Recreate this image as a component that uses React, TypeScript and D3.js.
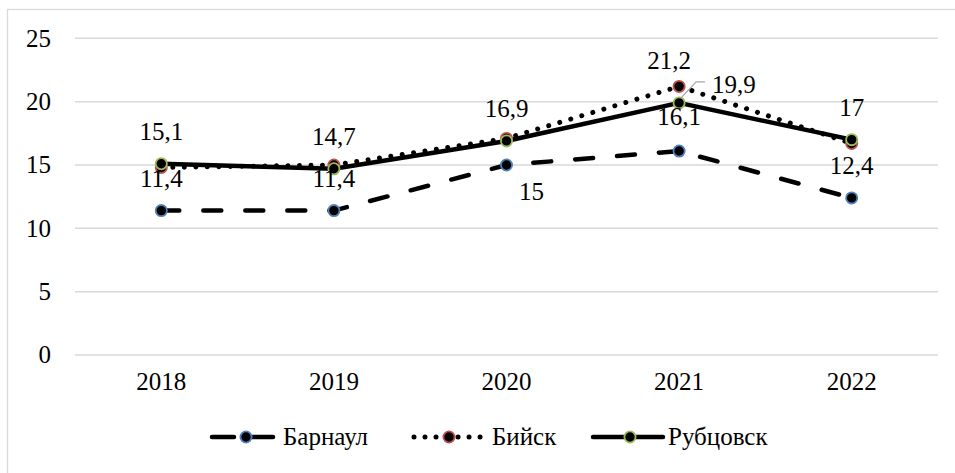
import React from 'react';
import * as d3 from 'd3';

const years = ['2018', '2019', '2020', '2021', '2022'];
const barnaul = [11.4, 11.4, 15, 16.1, 12.4];
const biysk = [14.8, 15.0, 17.1, 21.2, 16.7];
const rubtsovsk = [15.1, 14.7, 16.9, 19.9, 17];
const yTicks = [0, 5, 10, 15, 20, 25];
const seriesNames = ['Барнаул', 'Бийск', 'Рубцовск'];

// which data labels are shown: [seriesIndex, pointIndex]
const shownLabels: [number, number][] = [
  [0, 0], [0, 1], [0, 2], [0, 3], [0, 4],
  [2, 0], [2, 1], [2, 2], [2, 3], [2, 4],
  [1, 3],
];

const W = 955;
const H = 473;
const FS = 25;

const seriesData = [barnaul, biysk, rubtsovsk];
const strokes = ['#4F81BD', '#C0504D', '#9BBB59'];
const dashes = ['18,24', '0.01,11.5', 'none'];

function T(props: any) {
  const { children, ...rest } = props;
  return (
    <text {...rest} fontFamily="Liberation Serif" fontSize={FS} fill="#000" style={{ fontFamily: "'Liberation Serif'", fontSize: FS }}>
      {children}
    </text>
  );
}

// label placement relative to the point (layout only)
function labelPlacement(s: number, i: number) {
  if (s === 0 && i === 2) return { dx: 25, dy: 35, anchor: 'middle' };
  if (s === 2 && i === 3) return { dx: 33, dy: -10, anchor: 'start', leader: true };
  if (s === 1 && i === 3) return { dx: -10, dy: -17, anchor: 'middle' };
  if (s === 0 && i === 3) return { dx: 0, dy: -26, anchor: 'middle' };
  return { dx: 0, dy: -24, anchor: 'middle' };
}

const fmt = (v: number) => String(v).replace('.', ',');

export default function App() {
  const plotLeft = 75;
  const plotRight = 938;
  const x = d3.scaleBand<string>().domain(years).range([plotLeft, plotRight]);
  const y = d3.scaleLinear().domain([0, 25]).range([355, 38.3]);
  const cx = (i: number) => (x(years[i]) as number) + x.bandwidth() / 2;

  const line = d3
    .line<number>()
    .x((_, i) => cx(i))
    .y((d) => y(d));

  const legendY = 437;
  const legendItems = [
    { x1: 210, x2: 275, mx: 246, tx: 283 },
    { x1: 414, x2: 481, mx: 449, tx: 492 },
    { x1: 593, x2: 663, mx: 630, tx: 668 },
  ];

  return (
    <svg width={W} height={H} style={{ position: 'absolute', left: 0, top: 0 }}>
      <rect x={0} y={0} width={W} height={H} fill="#fff" />
      <rect x={7.5} y={9.5} width={970} height={490} fill="none" stroke="#D9D9D9" strokeWidth={1.3} />

      {yTicks.map((t) => (
        <g key={t}>
          <line x1={plotLeft} x2={plotRight} y1={y(t)} y2={y(t)} stroke="#D9D9D9" strokeWidth={1.5} />
          <T x={51} y={y(t)} dy="0.33em" textAnchor="end">
            {t}
          </T>
        </g>
      ))}

      {years.map((yr, i) => (
        <T key={yr} x={cx(i)} y={390} textAnchor="middle">
          {yr}
        </T>
      ))}

      {seriesData.map((data, s) => (
        <path
          key={'l' + s}
          d={line(data) || ''}
          fill="none"
          stroke="#000"
          strokeWidth={s === 1 ? 5 : 4.5}
          strokeLinecap="round"
          strokeLinejoin="round"
          strokeDasharray={dashes[s]}
        />
      ))}

      {seriesData.map((data, s) =>
        data.map((v, i) => (
          <circle key={'m' + s + i} cx={cx(i)} cy={y(v)} r={5.6} fill="#000" stroke={strokes[s]} strokeWidth={1.8} />
        ))
      )}

      {shownLabels.map(([s, i]) => {
        const p = labelPlacement(s, i);
        const px = cx(i);
        const py = y(seriesData[s][i]);
        return (
          <g key={'t' + s + i}>
            {p.leader && (
              <polyline
                points={`${px + 2},${py - 5} ${px + 17},${py - 21} ${px + 26},${py - 21}`}
                fill="none"
                stroke="#A6A6A6"
                strokeWidth={1.3}
              />
            )}
            <T x={px + p.dx} y={py + p.dy} textAnchor={p.anchor}>
              {fmt(seriesData[s][i])}
            </T>
          </g>
        );
      })}

      {legendItems.map((li, s) => (
        <g key={'lg' + s}>
          {s === 0 ? (
            <g>
              <line x1={li.x1 + 2} x2={li.mx - 12} y1={legendY} y2={legendY} stroke="#000" strokeWidth={4.5} strokeLinecap="round" />
              <line x1={li.mx + 6} x2={li.x2 - 2} y1={legendY} y2={legendY} stroke="#000" strokeWidth={4.5} strokeLinecap="round" />
            </g>
          ) : (
            <line
              x1={li.x1}
              x2={li.x2}
              y1={legendY}
              y2={legendY}
              stroke="#000"
              strokeWidth={s === 1 ? 5 : 4.5}
              strokeLinecap="round"
              strokeDasharray={s === 1 ? '0.01,11' : 'none'}
            />
          )}
          <circle cx={li.mx} cy={legendY} r={5.6} fill="#000" stroke={strokes[s]} strokeWidth={1.8} />
          <T x={li.tx} y={legendY} dy="0.33em">
            {seriesNames[s]}
          </T>
        </g>
      ))}
    </svg>
  );
}
